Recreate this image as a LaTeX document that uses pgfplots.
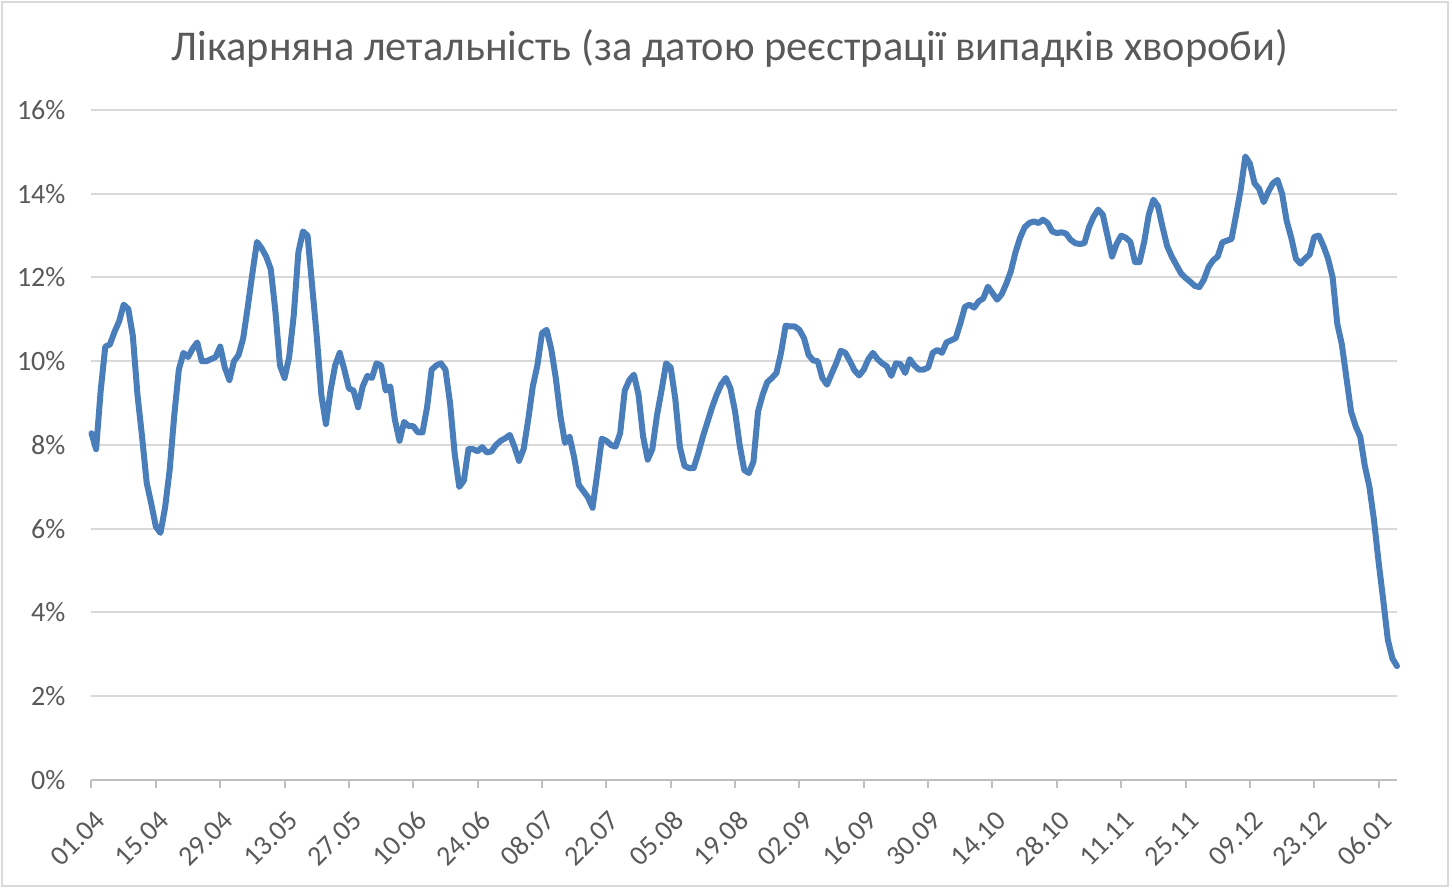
\documentclass[border=0pt]{standalone}
\usepackage{fontspec}
\setmainfont{Carlito}
\usepackage{pgfplots}
\pgfplotsset{compat=1.18}
\definecolor{txt}{HTML}{595959}
\definecolor{gridc}{HTML}{D9D9D9}
\definecolor{axisc}{HTML}{BFBFBF}
\definecolor{linec}{HTML}{4A7EBB}
\pgfplotstableread{
d v
0 8.28
1 7.9
2 9.3
3 10.35
4 10.4
5 10.7
6 10.95
7 11.35
8 11.25
9 10.6
10 9.2
11 8.2
12 7.1
13 6.6
14 6.05
15 5.9
16 6.5
17 7.4
18 8.7
19 9.8
20 10.2
21 10.1
22 10.3
23 10.45
24 10.0
25 10.0
26 10.05
27 10.1
28 10.35
29 9.85
30 9.55
31 10.0
32 10.15
33 10.55
34 11.3
35 12.1
36 12.85
37 12.7
38 12.5
39 12.2
40 11.2
41 9.9
42 9.6
43 10.1
44 11.1
45 12.6
46 13.1
47 13.0
48 11.8
49 10.6
50 9.2
51 8.5
52 9.3
53 9.9
54 10.2
55 9.8
56 9.35
57 9.3
58 8.9
59 9.4
60 9.65
61 9.6
62 9.95
63 9.9
64 9.3
65 9.4
66 8.6
67 8.1
68 8.55
69 8.45
70 8.45
71 8.3
72 8.3
73 8.9
74 9.8
75 9.9
76 9.95
77 9.8
78 9.0
79 7.8
80 7.0
81 7.15
82 7.9
83 7.9
84 7.85
85 7.95
86 7.82
87 7.85
88 8.0
89 8.1
90 8.16
91 8.24
92 7.96
93 7.62
94 7.9
95 8.6
96 9.4
97 9.9
98 10.67
99 10.75
100 10.3
101 9.6
102 8.7
103 8.05
104 8.2
105 7.7
106 7.05
107 6.9
108 6.75
109 6.5
110 7.3
111 8.15
112 8.1
113 8.0
114 7.96
115 8.28
116 9.3
117 9.55
118 9.68
119 9.2
120 8.2
121 7.65
122 7.9
123 8.7
124 9.3
125 9.95
126 9.85
127 9.1
128 7.95
129 7.5
130 7.45
131 7.45
132 7.8
133 8.2
134 8.55
135 8.9
136 9.2
137 9.45
138 9.6
139 9.35
140 8.8
141 8.0
142 7.4
143 7.33
144 7.6
145 8.8
146 9.2
147 9.5
148 9.6
149 9.72
150 10.2
151 10.85
152 10.83
153 10.83
154 10.75
155 10.55
156 10.15
157 10.02
158 10.0
159 9.6
160 9.44
161 9.7
162 9.95
163 10.25
164 10.2
165 10.0
166 9.78
167 9.66
168 9.8
169 10.05
170 10.2
171 10.05
172 9.95
173 9.88
174 9.65
175 9.95
176 9.93
177 9.72
178 10.05
179 9.9
180 9.8
181 9.8
182 9.85
183 10.2
184 10.27
185 10.2
186 10.45
187 10.5
188 10.55
189 10.9
190 11.3
191 11.35
192 11.28
193 11.43
194 11.5
195 11.78
196 11.63
197 11.47
198 11.6
199 11.85
200 12.15
201 12.6
202 12.95
203 13.2
204 13.3
205 13.34
206 13.3
207 13.38
208 13.3
209 13.1
210 13.06
211 13.08
212 13.05
213 12.9
214 12.82
215 12.8
216 12.82
217 13.2
218 13.45
219 13.62
220 13.5
221 13.0
222 12.5
223 12.8
224 13.0
225 12.95
226 12.85
227 12.37
228 12.37
229 12.85
230 13.5
231 13.86
232 13.7
233 13.2
234 12.75
235 12.5
236 12.3
237 12.1
238 11.99
239 11.9
240 11.8
241 11.77
242 11.95
243 12.25
244 12.41
245 12.5
246 12.84
247 12.88
248 12.92
249 13.5
250 14.1
251 14.89
252 14.72
253 14.25
254 14.12
255 13.8
256 14.05
257 14.25
258 14.33
259 14.0
260 13.35
261 12.95
262 12.45
263 12.33
264 12.45
265 12.55
266 12.97
267 13.0
268 12.75
269 12.45
270 12.0
271 10.9
272 10.4
273 9.6
274 8.8
275 8.45
276 8.2
277 7.5
278 7.0
279 6.2
280 5.2
281 4.3
282 3.35
283 2.9
284 2.72
}\lethality
\begin{document}
\begin{tikzpicture}
\path[use as bounding box] (0,0) rectangle (726pt,445pt);
\draw[gridc, line width=1pt] (1pt,2pt) rectangle (724pt,444pt);
\node[text=txt, font=\fontsize{21.2}{25}\selectfont] at (365pt,421pt) {Лікарняна летальність (за датою реєстрації випадків хвороби)};
\begin{axis}[
  at={(45.75pt,55pt)}, anchor=south west,
  scale only axis, width=652.75pt, height=335pt,
  xmin=0, xmax=284, ymin=0, ymax=16,
  axis lines*=left,
  y axis line style={draw=none},
  x axis line style={axisc, line width=1pt, -},
  ytick={0,2,...,16},
  yticklabels={0\%,2\%,4\%,6\%,8\%,10\%,12\%,14\%,16\%},
  ytick style={draw=none},
  xtick={0,14,...,280},
  xticklabels={01.04,15.04,29.04,13.05,27.05,10.06,24.06,08.07,22.07,05.08,19.08,02.09,16.09,30.09,14.10,28.10,11.11,25.11,09.12,23.12,06.01},
  xtick style={axisc, line width=1pt},
  tick align=outside, major tick length=4pt,
  ymajorgrids, grid style={gridc, line width=1pt},
  /pgf/number format/assume math mode=true,
  ticklabel style={text=txt, font=\fontsize{14}{16}\selectfont},
  yticklabel style={anchor=east, xshift=-5.5pt},
  xticklabel style={xshift=5pt, yshift=-13pt, rotate=45, anchor=east, inner sep=1pt},
  clip=false,
]
\addplot[linec, line width=3pt, line join=round, line cap=round] table[x=d, y=v] {\lethality};
\end{axis}
\end{tikzpicture}
\end{document}
